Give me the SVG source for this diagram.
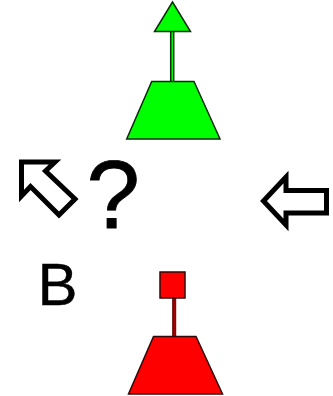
<svg xmlns="http://www.w3.org/2000/svg" width="333" height="396" viewBox="0 0 333 396">
<style>
.g{fill:#00ff00;stroke:#0c2a0c;stroke-width:1.5}
.r{fill:#ff0000;stroke:#300808;stroke-width:1.5}
.a{fill:#fff;stroke:#000;stroke-width:5}
text{font-family:"Liberation Sans",Arial,sans-serif;fill:#000;stroke:#000}
</style>
<g id="connectors">
<rect class="g" x="170.7" y="31" width="3" height="51"/>
<rect x="172.7" y="298" width="3" height="39" fill="#a00000" stroke="#600000"/>
</g>
<g id="node-green-triangle"><polygon class="g" points="172.5,2 190.5,31.5 154.5,31.5"/></g>
<g id="node-green-base"><polygon class="g" points="151.7,81.5 194,81.5 220,139 126.7,139"/></g>
<g id="node-red-square"><rect class="r" x="160" y="272" width="25" height="26"/></g>
<g id="node-red-base"><polygon class="r" points="153.5,336.5 196,336.5 222.5,394 128.5,394"/></g>
<g id="node-arrow-nw"><polygon class="a" points="21.5,162 55,162 45.5,171 75,199 59,215 30.5,186.5 21.5,196"/></g>
<g id="node-arrow-w"><polygon class="a" points="263.5,201 286,177 286,190.5 326.5,190.5 326.5,213 286,213 286,225"/></g>
<g id="node-question"><text x="86.5" y="228" font-size="96" stroke-width="0.8">?</text></g>
<g id="node-b"><text x="37.5" y="305" font-size="60" stroke-width="0.4">B</text></g>
</svg>
